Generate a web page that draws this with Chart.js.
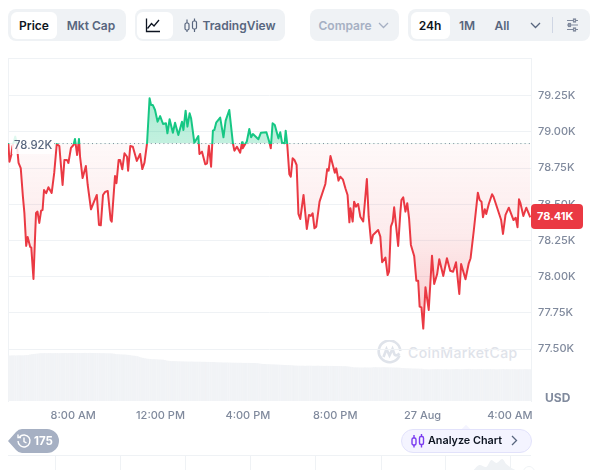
<!DOCTYPE html>
<html>
<head>
<meta charset="utf-8">
<script src="https://cdn.jsdelivr.net/npm/chart.js@4"></script>
<style>
html,body{margin:0;padding:0;background:#fff;width:596px;height:470px;overflow:hidden;font-family:Inter,"Noto Sans",sans-serif}
.a{position:absolute}
.grp{position:absolute;top:9px;height:32px;background:#eff2f5;border-radius:8px}
.pill{position:absolute;top:11.5px;height:27px;background:#fff;border-radius:6px}
.t{position:absolute;top:25px;transform:translate(-50%,-50%);font-size:12px;font-weight:600;color:#58667e;white-space:nowrap}
#frame{position:absolute;left:8px;top:58px;width:522px;height:343px;border:1px solid #eff2f5;border-bottom:none}
#main{position:absolute;left:0;top:0}
#nav{position:absolute;left:8px;top:455px}
</style>
</head>
<body>
<div class="grp" style="left:8px;width:118px"></div>
<div class="pill" style="left:11px;width:46px"></div>
<div class="t" style="left:34px;color:#0d1421">Price</div>
<div class="t" style="left:91px">Mkt Cap</div>

<div class="grp" style="left:135px;width:150px"></div>
<div class="pill" style="left:137px;width:36px"></div>
<svg class="a" style="left:145px;top:17px" width="16" height="16" viewBox="0 0 16 16" fill="none" stroke="#0d1421" stroke-width="1.3"><path d="M1.5 1.5V14.5H15"/><path d="M2.5 11.5L6.5 6.5L9 9L14 3"/></svg>
<svg class="a" style="left:184px;top:18px" width="14" height="15" viewBox="0 0 14 15" fill="none" stroke="#58667e" stroke-width="1.2"><rect x="1" y="5" width="4" height="7" rx="1.5"/><path d="M3 1.5V5M3 12V14"/><rect x="8.5" y="3" width="4" height="8" rx="1.5"/><path d="M10.5 0.5V3M10.5 11V14"/></svg>
<div class="t" style="left:239px">TradingView</div>

<div class="grp" style="left:310px;width:89px"></div>
<div class="t" style="left:345px;color:#a6b0c3">Compare</div>
<svg class="a" style="left:378px;top:22px" width="11" height="7" viewBox="0 0 11 7" fill="none" stroke="#a6b0c3" stroke-width="1.3"><path d="M1 1L5.5 5.5L10 1"/></svg>

<div class="grp" style="left:408px;width:182px"></div>
<div class="pill" style="left:411px;width:39px"></div>
<div class="t" style="left:430px;color:#0d1421">24h</div>
<div class="t" style="left:467px">1M</div>
<div class="t" style="left:502px">All</div>
<svg class="a" style="left:530px;top:22px" width="11" height="7" viewBox="0 0 11 7" fill="none" stroke="#58667e" stroke-width="1.3"><path d="M1 1L5.5 5.5L10 1"/></svg>
<div class="a" style="left:552px;top:17px;width:1px;height:16px;background:#cfd6e4"></div>
<svg class="a" style="left:566px;top:18px" width="13" height="14" viewBox="0 0 13 14" fill="none" stroke="#808a9d" stroke-width="1.2"><path d="M1 2.5H12M1 7H12M1 11.5H12"/><rect x="7.5" y="1" width="2" height="3" fill="#eff2f5"/><rect x="2.5" y="5.5" width="2" height="3" fill="#eff2f5"/><rect x="7.5" y="10" width="2" height="3" fill="#eff2f5"/></svg>

<div id="frame"></div>

<svg class="a" style="left:377px;top:340px" width="25" height="25" viewBox="0 0 25 25" fill="none" stroke="#dfe3ea" stroke-width="2.6"><path d="M22.5 15.5A10.8 10.8 0 1 1 23.3 11"/><path d="M6.5 17L9.5 9L12.5 15.5L15.5 9L17.5 14.5C18.5 16 20.5 15.5 22.5 13.5"/></svg>
<div class="a" style="left:408px;top:344px;font-size:14px;font-weight:500;color:#dfe3ea;letter-spacing:.4px;white-space:nowrap">CoinMarketCap</div>

<canvas id="main" width="596" height="470"></canvas>

<div class="a" style="left:12px;top:135px;width:42px;height:19px;background:rgba(255,255,255,.86)"></div>
<div class="a" style="left:14px;top:137px;font-size:11.3px;line-height:16px;font-weight:500;color:#58667e">78.92K</div>

<div class="a" style="left:531px;top:204px;width:52px;height:25px;background:#ea3943;border-radius:4px;color:#fff;font-size:11px;font-weight:700;line-height:25px;text-align:left;padding-left:6px;box-sizing:border-box" id="last">78.41K</div>
<div class="a" style="left:545px;top:390px;font-size:12px;font-weight:700;color:#808a9d">USD</div>

<svg class="a" style="left:8px;top:429px" width="51" height="24" viewBox="0 0 51 24"><path d="M0 12L8 3Q10.5 0 14 0H39A12 12 0 0 1 39 24H14Q10.5 24 8 21Z" fill="#a6b0c3"/><g fill="none" stroke="#fff" stroke-width="1.4"><path d="M11.5 8A6 6 0 1 1 10 12"/><path d="M16 8.5V12.5L18.5 14"/><path d="M10 5.5V8.5H13"/></g></svg>
<div class="a" style="left:34px;top:433px;font-size:11.5px;line-height:16px;font-weight:700;color:#fff">175</div>

<div class="a" style="left:463px;top:426px;width:6px;height:6px;background:#f4f4ff;transform:rotate(45deg)"></div>
<div class="a" style="left:401px;top:429px;width:129px;height:22px;background:#f4f4ff;border:1px solid #e2e2fb;border-radius:12px"></div>
<svg class="a" style="left:411px;top:434px" width="14" height="14" viewBox="0 0 14 14" fill="none" stroke="#7a3cf0" stroke-width="1.4"><rect x="1" y="4" width="4" height="7" rx="1.5"/><path d="M3 1V4M3 11V13.5"/><rect x="8.5" y="2.5" width="4" height="8" rx="1.5"/><path d="M10.5 0V2.5M10.5 10.5V13.5"/></svg>
<div class="a" style="left:428px;top:433px;font-size:10.8px;line-height:16px;font-weight:600;color:#0d1421;white-space:nowrap">Analyze Chart</div>
<svg class="a" style="left:511px;top:435px" width="7" height="11" viewBox="0 0 7 11" fill="none" stroke="#58667e" stroke-width="1.3"><path d="M1 1L5.5 5.5L1 10"/></svg>

<div class="a" style="left:8px;top:455px;width:523px;height:15px;border-top:1px solid #eff2f5;box-sizing:border-box"></div>
<div class="a" style="left:8px;top:456px;width:523px;height:14px;background-image:linear-gradient(#eff2f5,#eff2f5),linear-gradient(#eff2f5,#eff2f5),linear-gradient(#eff2f5,#eff2f5),linear-gradient(#eff2f5,#eff2f5),linear-gradient(#eff2f5,#eff2f5),linear-gradient(#eff2f5,#eff2f5),linear-gradient(#eff2f5,#eff2f5),linear-gradient(#eff2f5,#eff2f5);background-size:1px 14px;background-repeat:no-repeat;background-position:47px 0,112px 0,177px 0,242px 0,307px 0,373px 0,437px 0,502px 0"></div>
<canvas id="nav" width="523" height="15"></canvas>
<div class="a" style="left:523px;top:466px;width:10px;height:10px;border-radius:50%;background:#fff;border:1px solid #eff2f5"></div>

<script>
// Minutes after midnight of 26 Aug, and BTC price in USD
const times = [302,305,310,313,321,325,330,336,342,346,351,355,362,365,371,375,378,382,387,392,396,400,406,412,421,428,435,442,451,456,463,467,474,481,485,491,496,499,506,515,520,529,536,545,551,556,562,568,575,583,586,595,599,605,609,615,621,628,631,637,644,655,664,670,676,683,690,694,699,705,712,719,727,735,739,745,754,760,769,779,783,789,794,800,804,813,824,827,834,843,848,853,859,864,868,873,884,893,899,909,919,923,930,939,944,946,954,957,964,969,974,989,996,1011,1020,1023,1028,1034,1044,1049,1054,1061,1064,1068,1074,1078,1083,1088,1094,1099,1104,1113,1122,1128,1133,1138,1143,1148,1157,1173,1178,1182,1187,1199,1203,1209,1214,1221,1228,1234,1239,1242,1248,1252,1257,1263,1269,1277,1287,1292,1299,1304,1318,1324,1329,1338,1344,1348,1353,1358,1362,1373,1379,1382,1387,1393,1398,1403,1408,1417,1423,1428,1432,1437,1442,1448,1457,1466,1472,1480,1486,1497,1507,1516,1524,1532,1541,1546,1558,1567,1572,1581,1592,1597,1602,1606,1611,1615,1622,1631,1635,1656,1661,1668,1677,1690,1696,1701,1705,1709,1717,1725,1736];
const prices = [78922,78795,78841,78896,78968,78922,78786,78751,78553,78441,78213,78275,78206,78201,77985,78254,78441,78450,78372,78457,78461,78599,78577,78618,78579,78717,78917,78903,78634,78807,78807,78786,78890,78910,78952,78841,78952,78829,78682,78765,78634,78466,78510,78565,78358,78356,78565,78586,78593,78392,78381,78696,78646,78807,78807,78742,78853,78829,78733,78903,78898,78800,78848,78744,78788,78922,79233,79186,79186,79152,79071,79110,79055,79060,78991,79088,78995,79064,78979,79071,79014,79147,79037,79129,79095,78926,78972,78848,78864,78777,78784,78905,78760,79009,79014,79064,79099,78963,79078,79152,78922,78871,78898,78857,78929,78887,78922,78933,79021,78963,78986,78950,78995,78998,78922,78887,79060,79048,78956,78998,78926,78922,79009,78922,78708,78691,78818,78807,78772,78434,78399,78565,78330,78427,78420,78439,78335,78346,78519,78641,78744,78733,78834,78719,78749,78664,78691,78673,78611,78565,78376,78473,78381,78519,78484,78503,78415,78382,78675,78415,78231,78289,78323,78277,78100,78132,78012,78035,78346,78381,78480,78213,78443,78530,78549,78450,78508,78404,78220,78144,77973,77973,77794,77789,77642,77928,77771,78146,77950,78017,78121,78006,78128,78042,78035,78100,77881,78088,77983,78093,78128,78323,78581,78530,78519,78411,78466,78434,78503,78570,78553,78392,78296,78427,78477,78392,78408,78342,78535,78508,78420,78477,78410];
const basePrice = 78920;
// 24h volume, USD billions, one reading every five minutes from 5:02 AM
const volumeStart = 302, volumeStep = 5;
const volumes = [
45.2,45.2,45.3,45.3,45.2,45.3,45.4,45.4,45.3,45.5,45.6,45.7,
46.2,46.5,46.7,46.9,47.1,47.4,47.5,47.5,47.6,47.5,47.6,47.6,
47.5,47.5,47.6,47.6,47.5,47.6,47.6,47.7,47.6,47.6,47.7,47.7,
47.7,47.6,47.7,47.7,47.6,47.7,47.8,47.7,47.7,47.8,47.7,47.7,
47.7,47.6,47.6,47.5,47.5,47.5,47.4,47.4,47.4,47.3,47.0,46.7,
46.5,46.4,46.3,46.2,46.2,46.0,45.8,45.5,45.2,45.0,44.8,44.5,
43.8,43.2,42.8,42.4,42.1,41.9,41.7,41.5,41.5,41.4,41.3,41.2,
41.1,41.0,40.6,40.2,39.9,39.7,39.6,39.5,39.5,39.4,39.4,39.3,
39.3,39.2,39.2,39.1,39.1,39.1,39.0,39.0,39.0,39.0,38.9,38.9,
38.9,38.8,38.8,38.7,38.7,38.6,38.5,38.4,38.3,38.3,38.2,38.2,
38.2,38.1,38.1,38.0,38.0,38.0,37.9,37.9,37.9,37.8,37.8,37.8,
37.8,37.7,37.7,37.7,37.6,37.5,37.2,36.9,36.7,36.6,36.5,36.5,
36.4,36.3,36.3,36.2,36.1,36.0,35.9,35.8,35.7,35.6,35.6,35.5,
35.4,35.2,35.1,35.0,35.0,35.0,35.0,34.9,35.0,35.0,35.0,34.9,
34.9,34.9,35.0,34.9,34.9,34.8,34.8,34.9,34.8,34.8,34.8,34.7,
34.7,34.6,34.6,34.6,34.5,34.5,34.4,34.2,33.9,33.6,33.4,33.3,
33.3,33.2,33.2,33.2,33.3,33.2,33.2,33.2,33.3,33.5,33.5,33.4,
33.4,33.4,33.5,33.5,33.4,33.3,33.3,33.2,33.2,33.1,33.1,33.0,
32.7,32.6,32.5,32.4,32.4,32.3,32.2,32.2,32.1,32.1,32.0,32.0,
31.6,31.4,31.4,31.3,31.4,31.5,31.5,31.5,31.6,31.5,31.5,31.4,
31.5,31.5,31.4,31.4,31.5,31.5,31.6,31.6,31.5,31.5,31.5,31.6,
31.7,31.8,31.7,31.6,31.5,31.5,31.6,31.6,31.6,31.5,31.5,31.5,
31.5,31.6,31.5,31.5,31.4,31.4,31.5,31.5,31.6,31.5,31.5,31.5,
31.4,31.5,31.5,31.4,31.4,31.5,31.4,31.4,31.5,31.5,31.4,31.5];
const xTicks = [480,720,960,1200,1440,1680];
const xTickLabels = ['8:00 AM','12:00 PM','4:00 PM','8:00 PM','27 Aug','4:00 AM'];
const yTicks = [77500,77750,78000,78250,78500,78750,79000,79250];
const yTickLabels = ['77.50K','77.75K','78.00K','78.25K','78.50K','78.75K','79.00K','79.25K'];
const navTimes = [1580,1596,1615,1629,1643,1659,1670,1684,1695];
const navValues = [0,5,3,10,7,11,6,2,0];

const GREEN='#16c784', RED='#ea3943', GRID='#eff2f5', TICK='#808a9d';
const TMIN=301, TMAX=1738, PMIN=77142, PMAX=79511;
const tickFont={family:'Inter',size:11,weight:'500'};

const chart=new Chart(document.getElementById('main'),{
  type:'line',
  data:{datasets:[
    {label:'Price',data:times.map((t,i)=>({x:t,y:prices[i]})),borderColor:RED,borderWidth:2,pointRadius:0,tension:0,order:1,yAxisID:'y',xAxisID:'x',borderJoinStyle:'round',fill:false},
    {label:'Open',data:[{x:TMIN,y:basePrice},{x:TMAX,y:basePrice}],borderColor:TICK,borderWidth:1,borderDash:[1,3.2],pointRadius:0,order:2,yAxisID:'y',xAxisID:'x',fill:false},
    {type:'bar',label:'Volume',data:volumes.map((v,i)=>({x:volumeStart+i*volumeStep,y:v})),backgroundColor:'#f1f3f6',barThickness:1.4,order:3,yAxisID:'v',xAxisID:'x'}
  ]},
  options:{
    responsive:false,animation:false,
    layout:{padding:{left:8,top:58,right:0,bottom:0}},
    plugins:{legend:{display:false},tooltip:{enabled:false}},
    scales:{
      x:{type:'linear',min:TMIN,max:TMAX,offset:false,
        afterBuildTicks:a=>{a.ticks=xTicks.map(v=>({value:v}));},
        afterFit:a=>{a.height=69;},
        grid:{display:false,drawTicks:false},border:{display:false},
        ticks:{padding:8,font:tickFont,color:TICK,autoSkip:false,maxRotation:0,callback:v=>xTickLabels[xTicks.indexOf(v)]}},
      y:{position:'right',min:PMIN,max:PMAX,
        afterBuildTicks:a=>{a.ticks=yTicks.map(v=>({value:v}));},
        afterFit:a=>{a.width=65;},
        grid:{color:GRID,drawTicks:false},border:{display:false},
        ticks:{padding:7,font:tickFont,color:TICK,autoSkip:false,callback:v=>yTickLabels[yTicks.indexOf(v)]}},
      v:{display:false,min:0,max:343}
    }
  }
});

const ctx=chart.ctx, Y=chart.scales.y, top_=chart.chartArea.top, bot=chart.chartArea.bottom;
const yBase=Y.getPixelForValue(basePrice), f=(yBase-top_)/(bot-top_);
const stroke=ctx.createLinearGradient(0,top_,0,bot);
stroke.addColorStop(0,GREEN);stroke.addColorStop(f,GREEN);stroke.addColorStop(f,RED);stroke.addColorStop(1,RED);
const up=ctx.createLinearGradient(0,Y.getPixelForValue(79250),0,yBase);
up.addColorStop(0,'rgba(22,199,132,.36)');up.addColorStop(1,'rgba(22,199,132,.26)');
const down=ctx.createLinearGradient(0,yBase,0,Y.getPixelForValue(77640));
down.addColorStop(0,'rgba(234,57,67,.03)');down.addColorStop(.5,'rgba(234,57,67,.1)');down.addColorStop(1,'rgba(234,57,67,.28)');
const ds=chart.data.datasets[0];
ds.borderColor=stroke;
ds.fill={target:{value:basePrice},above:up,below:down};
chart.update('none');

new Chart(document.getElementById('nav'),{
  type:'line',
  data:{datasets:[{data:navTimes.map((t,i)=>({x:t,y:navValues[i]})),borderWidth:0,pointRadius:0,tension:.3,fill:'origin',backgroundColor:'#eff2f5'}]},
  options:{responsive:false,animation:false,plugins:{legend:{display:false},tooltip:{enabled:false}},
    layout:{padding:0},
    scales:{x:{type:'linear',min:TMIN,max:TMAX,display:false},y:{min:0,max:15,display:false}}}
});
</script>
</body>
</html>
